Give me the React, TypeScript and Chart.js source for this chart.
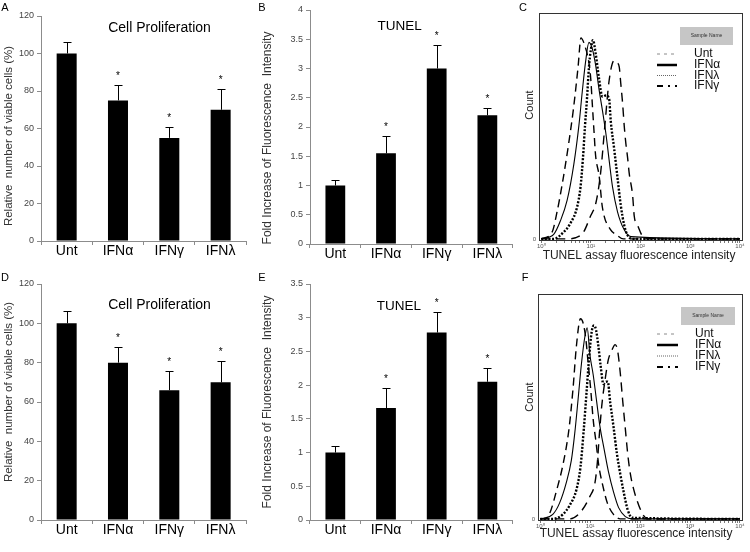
import React, { useEffect, useRef } from 'react';
import { Chart, registerables } from 'chart.js';

Chart.register(...registerables);

const FONT = '"Liberation Sans", Arial, Helvetica, sans-serif';
const W = 750;
const H = 552;
Chart.defaults.font.family = FONT;

// ---------------- data ----------------
const categories = ['Unt', 'IFNα', 'IFNγ', 'IFNλ'];
const significant = [false, true, true, true];

const prolifA = [100, 75, 55, 70];
const prolifAErr = [6, 8, 6, 11];
const tunelB = [1.0, 1.55, 3.0, 2.2];
const tunelBErr = [0.1, 0.3, 0.4, 0.12];
const prolifD = [100, 80, 66, 70];
const prolifDErr = [6.5, 8, 10, 11];
const tunelE = [1.0, 1.66, 2.78, 2.05];
const tunelEErr = [0.1, 0.3, 0.31, 0.2];

const histLabels = ['Unt', 'IFNα', 'IFNλ', 'IFNγ'];
const histDecades = [1, 10, 100, 1000, 10000];
const histTickLabels = ['10⁰', '10¹', '10²', '10³', '10⁴'];
const histTickValues = [
  1, 2, 3, 4, 5, 6, 7, 8, 9,
  10, 20, 30, 40, 50, 60, 70, 80, 90,
  100, 200, 300, 400, 500, 600, 700, 800, 900,
  1000, 2000, 3000, 4000, 5000, 6000, 7000, 8000, 9000,
  10000,
];

// panel C histograms (intensity, count)
const cUntX = [1, 1.65, 2.08, 2.63, 3.55, 4.47, 5.5, 6.3, 7.4, 9.1, 9.9, 10.7, 11.5, 12.4, 14.6, 17, 25, 32, 45, 10000];
const cUntY = [0, 3, 12, 24, 42, 58, 76, 89, 86, 78, 71, 59, 48, 37, 28, 14, 4, 2, 0, 0];
const cAlphaX = [1, 1.78, 2.43, 3.31, 4.52, 5.71, 6.68, 7.76, 9.12, 10.7, 12.4, 14.6, 17, 19.9, 23.2, 27.2, 34.3, 46.8, 63.8, 10000];
const cAlphaY = [0, 2, 8, 17, 33, 50, 65, 78, 87, 84, 77, 66, 57, 47, 35, 23, 12, 4, 1, 0];
const cLambdaX = [1, 1.78, 2.82, 3.89, 5.25, 6.17, 6.92, 7.59, 8.32, 9.12, 10, 10.96, 12.45, 14.55, 16.98, 19.95, 23.2, 25.1, 29.3, 34.3, 39.8, 46.8, 55, 70.8, 10000];
const cLambdaY = [0, 0, 3, 7, 14, 23, 36, 50, 62, 76, 84, 88, 82, 71, 63, 63.5, 62, 52, 40, 27, 15, 6, 1.5, 0, 0];
const cGammaX = [1, 3.16, 4.9, 7.08, 9.77, 12.6, 15.8, 19.05, 23.2, 29.3, 33.9, 37.2, 39.8, 43.4, 46.8, 50.6, 54.7, 59, 69.2, 74.5, 87.1, 117.5, 251, 10000];
const cGammaY = [0, 0, 0.5, 3, 10, 16, 30, 50, 70, 79, 78, 76, 69, 60, 50, 42, 36, 29, 19, 10, 6, 0.5, 0, 0];

// panel F histograms (intensity, count)
const fUntX = [1, 1.3, 1.64, 2.08, 2.84, 3.76, 4.53, 5.3, 6.38, 7.23, 8.18, 9.12, 10.2, 11.5, 13.1, 14.8, 17.8, 22.1, 29.3, 40, 10000];
const fUntY = [0, 0, 4, 12, 24, 40, 58, 77, 89, 87, 80, 69, 58, 44, 34, 24, 15, 7, 2, 0, 0];
const fAlphaX = [1, 1.78, 2.43, 3.31, 4.19, 4.9, 5.71, 6.68, 7.82, 8.71, 9.86, 11.5, 13.5, 15.7, 19, 23.2, 29.3, 37.1, 50.6, 69, 10000];
const fAlphaY = [0, 2, 7, 16, 26, 38, 53, 69, 81, 85, 73, 64, 52, 41, 31, 21, 12, 5, 1, 0, 0];
const fLambdaX = [1, 1.78, 2.84, 3.87, 5.3, 6.38, 7.45, 8.43, 9.55, 10.67, 11.9, 13.1, 14.55, 16.2, 18.4, 20.8, 22.5, 25.1, 29.3, 34.3, 40, 46.8, 56.4, 69, 10000];
const fLambdaY = [0, 0, 2, 6, 13, 23, 40, 56, 72, 83, 86, 84, 77, 68, 60, 61, 61, 52, 41, 29, 20, 12, 4, 0.5, 0];
const fGammaX = [1, 3.87, 6.68, 9.86, 12.45, 13.9, 15.2, 17, 19.9, 23.2, 27.2, 31.6, 35.3, 40, 44.6, 50.6, 56.4, 63.8, 74.6, 94.2, 118.9, 139, 10000];
const fGammaY = [0, 0, 3.5, 10, 16, 25, 37, 50, 62, 71, 75, 77.5, 75, 65, 53, 40, 29, 20, 13, 6, 1.3, 0, 0];

// ---------------- styles ----------------
const curveStyles = [
  { width: 1.4, dash: [8, 5] },
  { width: 1.1, dash: [] as number[] },
  { width: 2.4, dash: [2, 1.6] },
  { width: 1.4, dash: [9, 6] },
];
const legendStyles = [
  { width: 1, dash: [3, 4], color: '#8a8a8a' },
  { width: 2.5, dash: [] as number[], color: '#000' },
  { width: 1, dash: [1, 1], color: '#666' },
  { width: 2, dash: [6, 5, 2, 5], color: '#000' },
];

type Area = { left: number; right: number; top: number; bottom: number };
type TextItem = { text: string; x: number; y: number; size: number; rotate?: boolean; color?: string };

function textPlugin(items: TextItem[]) {
  return {
    id: 'panelTexts',
    afterDraw(chart: any) {
      const ctx = chart.ctx;
      items.forEach((t) => {
        ctx.save();
        ctx.font = `${t.size}px ${FONT}`;
        ctx.fillStyle = t.color || '#000';
        ctx.textAlign = 'center';
        ctx.textBaseline = 'middle';
        ctx.translate(t.x, t.y);
        if (t.rotate) ctx.rotate(-Math.PI / 2);
        ctx.fillText(t.text, 0, 0);
        ctx.restore();
      });
    },
  };
}

const errorBarPlugin = {
  id: 'errorBars',
  afterDatasetsDraw(chart: any) {
    const ds: any = chart.data.datasets[0];
    const meta = chart.getDatasetMeta(0);
    const y = chart.scales.y;
    const ctx = chart.ctx;
    ctx.save();
    ctx.strokeStyle = '#000';
    ctx.lineWidth = 1;
    meta.data.forEach((bar: any, i: number) => {
      const v = ds.data[i];
      const e = ds.errors[i];
      const yb = y.getPixelForValue(v);
      const yt = Math.round(y.getPixelForValue(v + e)) + 0.5;
      const x = Math.round(bar.x) + 0.5;
      ctx.beginPath();
      ctx.moveTo(x, yb);
      ctx.lineTo(x, yt);
      ctx.moveTo(x - 4, yt);
      ctx.lineTo(x + 4, yt);
      ctx.stroke();
      if (ds.stars && ds.stars[i]) {
        ctx.font = `10px ${FONT}`;
        ctx.fillStyle = '#000';
        ctx.textAlign = 'center';
        ctx.textBaseline = 'alphabetic';
        ctx.fillText('*', bar.x, yt - 7);
      }
    });
    ctx.restore();
  },
};

const framePlugin = {
  id: 'frame',
  beforeDatasetsDraw(chart: any) {
    const a = chart.chartArea;
    const ctx = chart.ctx;
    ctx.save();
    ctx.strokeStyle = '#333';
    ctx.lineWidth = 1;
    ctx.strokeRect(Math.round(a.left) + 0.5, Math.round(a.top) + 0.5, Math.round(a.right - a.left), Math.round(a.bottom - a.top));
    ctx.restore();
  },
};

type LegendPos = { boxX: number; boxY: number; boxW: number; boxH: number; x1: number; x2: number; textX: number; rows: number[] };

function histLegendPlugin(p: LegendPos) {
  return {
    id: 'histLegend',
    afterDraw(chart: any) {
      const ctx = chart.ctx;
      ctx.save();
      ctx.fillStyle = '#c6c6c6';
      ctx.fillRect(p.boxX, p.boxY, p.boxW, p.boxH);
      ctx.font = `5px ${FONT}`;
      ctx.fillStyle = '#333';
      ctx.textAlign = 'center';
      ctx.textBaseline = 'middle';
      ctx.fillText('Sample Name', p.boxX + p.boxW / 2, p.boxY + p.boxH / 2);
      chart.data.datasets.forEach((ds: any, i: number) => {
        const st = legendStyles[i];
        const yy = p.rows[i];
        ctx.setLineDash(st.dash);
        ctx.lineWidth = st.width;
        ctx.strokeStyle = st.color;
        ctx.beginPath();
        ctx.moveTo(p.x1, yy);
        ctx.lineTo(p.x2, yy);
        ctx.stroke();
        ctx.setLineDash([]);
        ctx.font = `12px ${FONT}`;
        ctx.fillStyle = '#111';
        ctx.textAlign = 'left';
        ctx.textBaseline = 'middle';
        ctx.fillText(ds.label, p.textX, yy);
      });
      ctx.restore();
    },
  };
}

function padFor(area: Area, yWidth: number, xHeight: number) {
  return {
    left: area.left - yWidth,
    top: area.top,
    right: W - area.right,
    bottom: H - area.bottom - xHeight,
  };
}

function barConfig(values: number[], errors: number[], yMax: number, yStep: number, area: Area, texts: TextItem[]): any {
  return {
    type: 'bar',
    data: {
      labels: categories,
      datasets: [
        {
          data: values,
          errors,
          stars: significant,
          backgroundColor: '#000',
          borderWidth: 0,
          categoryPercentage: 1,
          barPercentage: 0.39,
        },
      ],
    },
    options: {
      responsive: false,
      animation: false,
      events: [],
      layout: { padding: padFor(area, 40, 20) },
      plugins: { legend: { display: false }, tooltip: { enabled: false }, title: { display: false } },
      scales: {
        x: {
          grid: { offset: true, drawOnChartArea: false, tickLength: 4, color: '#8c8c8c' },
          border: { color: '#8c8c8c' },
          ticks: { font: { size: 14 }, color: '#000', padding: -2, maxRotation: 0 },
          afterFit: (s: any) => { s.height = 20; },
        },
        y: {
          min: 0,
          max: yMax,
          ticks: {
            stepSize: yStep,
            font: { size: 9 },
            color: '#444',
            padding: 3,
            callback: (v: any) => String(Number(v)),
          },
          grid: { drawOnChartArea: false, tickLength: 4, color: '#8c8c8c' },
          border: { color: '#8c8c8c' },
          afterFit: (s: any) => { s.width = 40; },
        },
      },
    },
    plugins: [errorBarPlugin, textPlugin(texts)],
  };
}

function histConfig(series: { xs: number[]; ys: number[] }[], area: Area, texts: TextItem[], legend: LegendPos): any {
  return {
    type: 'line',
    data: {
      datasets: series.map((s, i) => ({
        label: histLabels[i],
        data: s.xs.map((x, j) => ({ x, y: s.ys[j] })),
        borderColor: '#000',
        borderWidth: curveStyles[i].width,
        borderDash: curveStyles[i].dash,
        pointRadius: 0,
        fill: false,
        cubicInterpolationMode: 'monotone',
      })),
    },
    options: {
      responsive: false,
      animation: false,
      events: [],
      layout: { padding: padFor(area, 20, 12) },
      plugins: { legend: { display: false }, tooltip: { enabled: false }, title: { display: false } },
      scales: {
        x: {
          type: 'logarithmic',
          min: 0.9,
          max: 11000,
          afterBuildTicks: (s: any) => {
            s.ticks = histTickValues.map((v) => ({ value: v, major: histDecades.includes(v) }));
          },
          ticks: {
            autoSkip: false,
            maxRotation: 0,
            font: { size: 6 },
            color: '#555',
            padding: 0,
            callback: (v: any) => {
              const idx = histDecades.indexOf(Number(v));
              return idx >= 0 ? histTickLabels[idx] : '';
            },
          },
          grid: { drawOnChartArea: false, tickLength: 3, color: '#555', lineWidth: 0.8 },
          border: { display: false },
          afterFit: (s: any) => { s.height = 12; },
        },
        y: {
          type: 'linear',
          min: -0.5,
          max: 100,
          afterBuildTicks: (s: any) => { s.ticks = [{ value: 0 }]; },
          ticks: { font: { size: 6 }, color: '#555', padding: 3 },
          grid: { display: false, drawTicks: false },
          border: { display: false },
          afterFit: (s: any) => { s.width = 20; },
        },
      },
    },
    plugins: [framePlugin, textPlugin(texts), histLegendPlugin(legend)],
  };
}

const yTitleProlif = 'Relative  number of viable cells (%)';
const yTitleTunel = 'Fold Increase of Fluorescence  Intensity';
const xTitleHist = 'TUNEL assay fluorescence intensity';

function buildConfigs(): any[] {
  const areaA: Area = { left: 41, right: 246.3, top: 16, bottom: 241 };
  const areaB: Area = { left: 310, right: 512.7, top: 10, bottom: 244 };
  const areaC: Area = { left: 539, right: 742, top: 13, bottom: 240 };
  const areaD: Area = { left: 41, right: 246.3, top: 284, bottom: 520 };
  const areaE: Area = { left: 310, right: 512.7, top: 284, bottom: 520 };
  const areaF: Area = { left: 538, right: 742, top: 294, bottom: 520 };

  return [
    barConfig(prolifA, prolifAErr, 120, 20, areaA, [
      { text: 'A', x: 5, y: 8, size: 11 },
      { text: 'Cell Proliferation', x: 159.5, y: 28, size: 14 },
      { text: yTitleProlif, x: 9, y: 136, size: 11.5, rotate: true, color: '#333' },
    ]),
    barConfig(tunelB, tunelBErr, 4, 0.5, areaB, [
      { text: 'B', x: 262, y: 8, size: 11 },
      { text: 'TUNEL', x: 399.7, y: 26, size: 13.5 },
      { text: yTitleTunel, x: 268, y: 138, size: 12, rotate: true, color: '#333' },
    ]),
    histConfig(
      [
        { xs: cUntX, ys: cUntY },
        { xs: cAlphaX, ys: cAlphaY },
        { xs: cLambdaX, ys: cLambdaY },
        { xs: cGammaX, ys: cGammaY },
      ],
      areaC,
      [
        { text: 'C', x: 523, y: 8, size: 11 },
        { text: 'Count', x: 530, y: 105, size: 11, rotate: true, color: '#222' },
        { text: xTitleHist, x: 639, y: 256, size: 12, color: '#222' },
      ],
      { boxX: 680, boxY: 27, boxW: 53, boxH: 18, x1: 657, x2: 677, textX: 694, rows: [54, 65, 75.5, 86] }
    ),
    barConfig(prolifD, prolifDErr, 120, 20, areaD, [
      { text: 'D', x: 5, y: 278, size: 11 },
      { text: 'Cell Proliferation', x: 159.5, y: 305.5, size: 14 },
      { text: yTitleProlif, x: 9, y: 392, size: 11.5, rotate: true, color: '#333' },
    ]),
    barConfig(tunelE, tunelEErr, 3.5, 0.5, areaE, [
      { text: 'E', x: 262, y: 278, size: 11 },
      { text: 'TUNEL', x: 398.8, y: 306.7, size: 13.5 },
      { text: yTitleTunel, x: 268, y: 402, size: 12, rotate: true, color: '#333' },
    ]),
    histConfig(
      [
        { xs: fUntX, ys: fUntY },
        { xs: fAlphaX, ys: fAlphaY },
        { xs: fLambdaX, ys: fLambdaY },
        { xs: fGammaX, ys: fGammaY },
      ],
      areaF,
      [
        { text: 'F', x: 525, y: 278, size: 11 },
        { text: 'Count', x: 530, y: 397, size: 11, rotate: true, color: '#222' },
        { text: xTitleHist, x: 636, y: 534, size: 12, color: '#222' },
      ],
      { boxX: 681, boxY: 307, boxW: 54, boxH: 18, x1: 657, x2: 678, textX: 695, rows: [334, 345, 356, 367] }
    ),
  ];
}

function Panel({ config }: { config: any }) {
  const ref = useRef<HTMLCanvasElement>(null);
  useEffect(() => {
    const chart = new Chart(ref.current as HTMLCanvasElement, config);
    return () => chart.destroy();
  }, [config]);
  return (
    <canvas
      ref={ref}
      width={W}
      height={H}
      style={{ position: 'absolute', left: 0, top: 0, width: W, height: H }}
    />
  );
}

const configs = buildConfigs();

export default function App() {
  return (
    <div style={{ position: 'fixed', left: 0, top: 0, width: W, height: H, background: '#fff', overflow: 'hidden' }}>
      {configs.map((c, i) => (
        <Panel key={i} config={c} />
      ))}
    </div>
  );
}
